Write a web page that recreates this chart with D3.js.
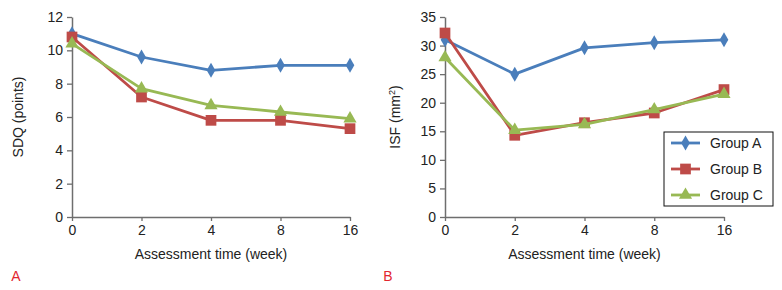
<!DOCTYPE html>
<html>
<head>
<meta charset="utf-8">
<script src="https://cdn.jsdelivr.net/npm/d3@7"></script>
<style>
  body { margin: 0; background: #fff; }
  svg { display: block; font-family: "Liberation Sans", Arial, sans-serif; }
</style>
</head>
<body>
<svg width="782" height="290"></svg>
<script>
// data
var weeks = ["0", "2", "4", "8", "16"];
var groups = ["Group A", "Group B", "Group C"];
var colors = ["#4a7ebb", "#be4b48", "#98b954"];

var sdqA = [11.0, 9.6, 8.8, 9.1, 9.1];
var sdqB = [10.8, 7.2, 5.8, 5.8, 5.3];
var sdqC = [10.4, 7.7, 6.7, 6.3, 5.9];

var isfA = [31.0, 25.0, 29.6, 30.5, 31.0];
var isfB = [32.2, 14.3, 16.5, 18.2, 22.3];
var isfC = [27.9, 15.2, 16.2, 18.8, 21.5];

var sdqTicks = [0, 2, 4, 6, 8, 10, 12];
var isfTicks = [0, 5, 10, 15, 20, 25, 30, 35];

var svg = d3.select("svg");
var axisColor = "#6e6e6e";
var symbols = [d3.symbolDiamond, d3.symbolSquare, d3.symbolTriangle];
var symSizes = [65, 115, 75];

function panel(opt) {
	var x = d3.scalePoint().domain(weeks).range([opt.left, opt.right]);
	var y = d3.scaleLinear().domain(opt.domain).range([217, 17]);

	var g = svg.append("g");

	// x axis
	var xa = g.append("g")
		.attr("transform", "translate(0,217)")
		.call(d3.axisBottom(x).tickSizeInner(4).tickSizeOuter(0).tickPadding(4));
	// y axis
	var ya = g.append("g")
		.attr("transform", "translate(" + opt.left + ",0)")
		.call(d3.axisLeft(y).tickValues(opt.ticks).tickSizeInner(5).tickSizeOuter(0).tickPadding(4));

	[xa, ya].forEach(function(a) {
		a.select(".domain").attr("stroke", axisColor).attr("stroke-width", 1.5);
		a.selectAll(".tick line").attr("stroke", axisColor).attr("stroke-width", 1.3);
		a.selectAll(".tick text").attr("fill", "#222").style("font-size", "14px")
			.style("font-family", "'Liberation Sans', Arial, sans-serif");
	});

	var line = d3.line()
		.x(function(d, i) { return x(weeks[i]); })
		.y(function(d) { return y(d); });

	opt.series.forEach(function(s, k) {
		g.append("path")
			.datum(s)
			.attr("fill", "none")
			.attr("stroke", colors[k])
			.attr("stroke-width", 2.8)
			.attr("stroke-linejoin", "round")
			.attr("d", line);
		g.selectAll(".m" + k)
			.data(s)
			.enter().append("path")
			.attr("class", "m" + k)
			.attr("transform", function(d, i) { return "translate(" + x(weeks[i]) + "," + y(d) + ")"; })
			.attr("d", d3.symbol().type(symbols[k]).size(symSizes[k]))
			.attr("fill", colors[k]);
	});

	// axis titles
	g.append("text")
		.attr("x", (opt.left + opt.right) / 2)
		.attr("y", 259)
		.attr("text-anchor", "middle")
		.style("font-size", "14px")
		.attr("fill", "#222")
		.text("Assessment time (week)");

	var yt = g.append("text")
		.attr("transform", "translate(" + opt.ylabX + ",117) rotate(-90)")
		.attr("text-anchor", "middle")
		.style("font-size", "14px")
		.attr("fill", "#222");
	yt.append("tspan").text(opt.ylabel[0]);
	if (opt.ylabel[1]) {
		yt.append("tspan").attr("dy", -5).style("font-size", "9px").text(opt.ylabel[1]);
		yt.append("tspan").attr("dy", 5).text(opt.ylabel[2]);
	}

	// panel letter
	g.append("text")
		.attr("x", opt.letterX)
		.attr("y", 281)
		.attr("text-anchor", "middle")
		.style("font-size", "14px")
		.attr("fill", "#e2262f")
		.text(opt.letter);

	return { x: x, y: y, g: g };
}

panel({ left: 72, right: 350, domain: [0, 12], ticks: sdqTicks,
	series: [sdqA, sdqB, sdqC], ylabel: ["SDQ (points)"], ylabX: 23, letter: "A", letterX: 16 });

panel({ left: 445, right: 724, domain: [0, 35], ticks: isfTicks,
	series: [isfA, isfB, isfC], ylabel: ["ISF (mm", "2", ")"], ylabX: 400, letter: "B", letterX: 388 });

// legend
var lg = svg.append("g").attr("transform", "translate(664,132)");
lg.append("rect")
	.attr("width", 109)
	.attr("height", 74)
	.attr("fill", "#fff")
	.attr("stroke", "#111")
	.attr("stroke-width", 1);
groups.forEach(function(name, k) {
	var yy = 11 + k * 26;
	lg.append("line")
		.attr("x1", 7).attr("x2", 36)
		.attr("y1", yy).attr("y2", yy)
		.attr("stroke", colors[k]).attr("stroke-width", 2.8);
	lg.append("path")
		.attr("transform", "translate(21.5," + yy + ")")
		.attr("d", d3.symbol().type(symbols[k]).size(symSizes[k]))
		.attr("fill", colors[k]);
	lg.append("text")
		.attr("x", 46)
		.attr("y", yy + 5)
		.style("font-size", "14px")
		.attr("fill", "#222")
		.text(name);
});
</script>
</body>
</html>
